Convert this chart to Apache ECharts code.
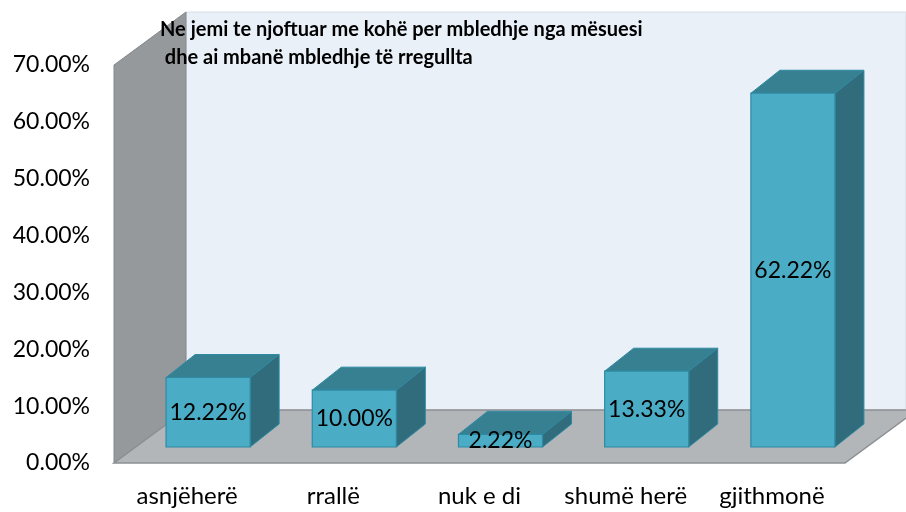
<!DOCTYPE html>
<html>
<head>
<meta charset="utf-8">
<script src="https://cdn.jsdelivr.net/npm/echarts@6/dist/echarts.min.js"></script>
<style>
  html, body { margin: 0; padding: 0; background: #fff; }
  #canvas_main { width: 906px; height: 512px; }
</style>
</head>
<body>
<div id="canvas_main"></div>
<script>
var categories = ['asnjëherë', 'rrallë', 'nuk e di', 'shumë herë', 'gjithmonë'];
var values = [12.22, 10.00, 2.22, 13.33, 62.22];
var yTicks = [0, 10, 20, 30, 40, 50, 60, 70];
var titleLines = ['Ne jemi te njoftuar me kohë per mbledhje nga mësuesi', ' dhe ai mbanë mbledhje të rregullta'];

// depth of the "room" and of each box (pixels)
var wallDx = 72, wallDy = -53;
var barShiftX = 21, barShiftY = -16;
var barDx = 29, barDy = -23;

var myChart = echarts.init(document.getElementById('canvas_main'));

function renderWalls(params, api) {
	var cs = params.coordSys;
	var x0 = cs.x, x1 = cs.x + cs.width;
	var yTop = cs.y, yBot = cs.y + cs.height;
	return {
		type: 'group',
		children: [
			{ // back wall
				type: 'polygon',
				shape: { points: [[x0 + wallDx, yTop + wallDy], [906, yTop + wallDy], [906, yBot + wallDy], [x0 + wallDx, yBot + wallDy]] },
				style: { fill: '#E9F0F8', stroke: '#D6DDE5', lineWidth: 1 }
			},
			{ // side wall
				type: 'polygon',
				shape: { points: [[x0, yTop], [x0 + wallDx, yTop + wallDy], [x0 + wallDx, yBot + wallDy], [x0, yBot]] },
				style: { fill: '#95999C', stroke: '#85898C', lineWidth: 1 }
			},
			{ // floor
				type: 'polygon',
				shape: { points: [[x0, yBot], [x1, yBot], [x1 + wallDx, yBot + wallDy], [x0 + wallDx, yBot + wallDy]] },
				style: { fill: '#B3B6B9', stroke: '#8C8F92', lineWidth: 1.5 }
			}
		]
	};
}

function renderBox(params, api) {
	var idx = api.value(0);
	var p0 = api.coord([idx, 0]);
	var p1 = api.coord([idx, api.value(1)]);
	var bw = api.size([1, 0])[0] * 0.575;
	var fx = p0[0] - bw / 2 + barShiftX;
	var ty = p1[1] + barShiftY;
	var by = p0[1] + barShiftY;
	var edge = '#2E8AA2';
	return {
		type: 'group',
		children: [
			{
				type: 'polygon',
				shape: { points: [[fx, ty], [fx + bw, ty], [fx + bw + barDx, ty + barDy], [fx + barDx, ty + barDy]] },
				style: { fill: '#368091', stroke: edge, lineWidth: 1 }
			},
			{
				type: 'polygon',
				shape: { points: [[fx + bw, ty], [fx + bw + barDx, ty + barDy], [fx + bw + barDx, by + barDy], [fx + bw, by]] },
				style: { fill: '#316C7D', stroke: edge, lineWidth: 1 }
			},
			{
				type: 'rect',
				shape: { x: fx, y: ty, width: bw, height: by - ty },
				style: { fill: '#4BACC6', stroke: edge, lineWidth: 1.2 }
			},
			{
				type: 'text',
				style: {
					x: fx + bw / 2, y: (ty + by) / 2,
					text: values[idx].toFixed(2) + '%',
					fill: '#000', font: '23px Lato',
					align: 'center', verticalAlign: 'middle'
				}
			}
		]
	};
}

var option = {
	animation: false,
	backgroundColor: '#ffffff',
	textStyle: { fontFamily: 'Lato' },
	graphic: [{
		type: 'text',
		left: 160,
		top: 16,
		style: {
			text: titleLines.join('\n'),
			font: 'bold 20px Lato',
			lineHeight: 28,
			fill: '#000'
		},
		z: 10
	}],
	grid: { left: 114, right: 61, top: 65, bottom: 49 },
	xAxis: {
		type: 'category',
		data: categories,
		axisLine: { show: false },
		axisTick: { show: false },
		axisLabel: { color: '#000', fontSize: 24, margin: 21, interval: 0, hideOverlap: false }
	},
	yAxis: {
		type: 'value',
		min: yTicks[0],
		max: yTicks[yTicks.length - 1],
		interval: 10,
		axisLine: { show: false },
		axisTick: { show: false },
		splitLine: { show: false },
		axisLabel: {
			color: '#000', fontSize: 23, margin: 24,
			formatter: function (v) { return v.toFixed(2) + '%'; }
		}
	},
	series: [
		{
			type: 'custom',
			renderItem: renderWalls,
			data: [[0, 0]],
			z: 1,
			silent: true
		},
		{
			type: 'custom',
			renderItem: renderBox,
			data: values.map(function (v, i) { return [i, v]; }),
			z: 2
		}
	]
};
myChart.setOption(option);
</script>
</body>
</html>
